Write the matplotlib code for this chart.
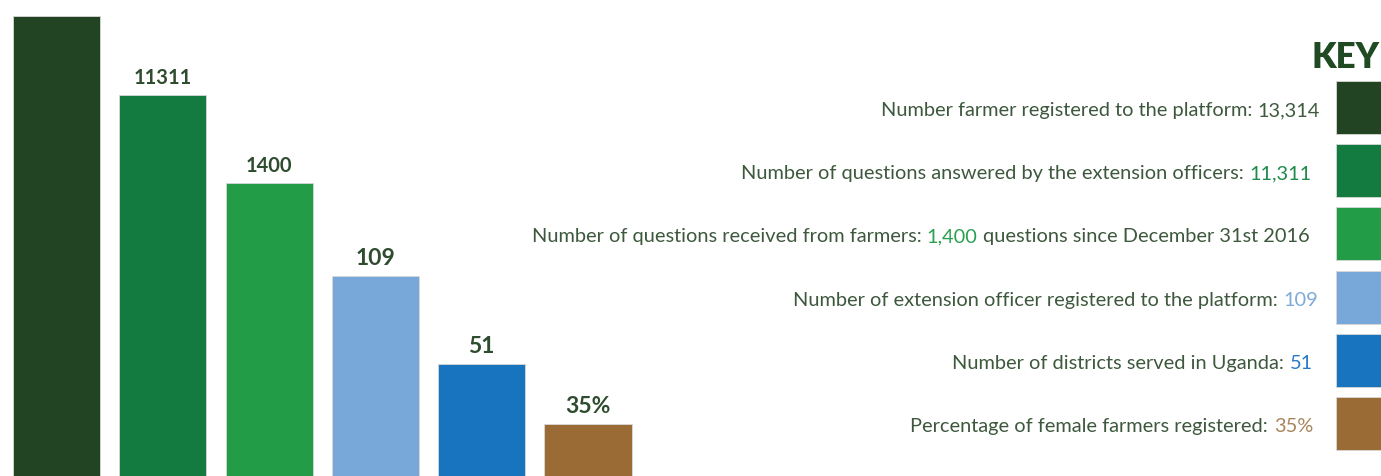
import numpy as np
import matplotlib
matplotlib.use("Agg")
import matplotlib.pyplot as plt
from matplotlib.offsetbox import TextArea, HPacker, AnnotationBbox

plt.rcParams["font.family"] = ["Lato", "DejaVu Sans"]

# figures shown on the bars and in the key
values = [13314, 11311, 1400, 109, 51, 35]
bar_labels = ["", "11311", "1400", "109", "51", "35%"]
colors = ["#234422", "#137a40", "#229c46", "#78a8da", "#1874be", "#9b6b35"]
value_colors = ["#3f5b3f", "#1f8a4c", "#2aa050", "#7eaad8", "#2a7cc4", "#a8855a"]
key_parts = [
    ["Number farmer registered to the platform:", "13,314", ""],
    ["Number of questions answered by the extension officers:", "11,311", ""],
    ["Number of questions received from farmers:", "1,400", "questions since December 31st 2016"],
    ["Number of extension officer registered to the platform:", "109", ""],
    ["Number of districts served in Uganda:", "51", ""],
    ["Percentage of female farmers registered:", "35%", ""],
]

text_col = "#3d583d"
W, H = 1381, 477
fig = plt.figure(figsize=(W / 100, H / 100), dpi=100)

# bars use a stepped (infographic) scale so the small figures stay visible
steps_v = [0, 35, 51, 109, 1400, 11311, 13314]
steps_y = [0, 52, 112, 200, 293, 381, 460]


def fwd(v):
    return np.interp(v, steps_v, steps_y)


def inv(y):
    return np.interp(y, steps_y, steps_v)


ax = fig.add_axes([0, 0, 690.5 / W, 460 / H])
ax.set_yscale("function", functions=(fwd, inv))
x = np.arange(len(values))
ax.bar(x, values, width=0.82, color=colors, edgecolor="#d8d8d8", linewidth=0.6)
ax.set_xlim(-0.5315, 5.964)
ax.set_ylim(0, 13314)
ax.axis("off")

for i, (v, lab) in enumerate(zip(values, bar_labels)):
    if not lab:
        continue
    size = 14.5 if i < 3 else 16.5
    ax.annotate(lab, (x[i], v), xytext=(0, 6), textcoords="offset points",
                ha="center", va="bottom", fontsize=size, fontweight="bold",
                color="#2f4c2f", annotation_clip=False)

# key
fig.text(1379 / W, 1 - 57 / H, "KEY", ha="right", va="center",
         fontsize=25, fontweight="heavy", color="#1f4a22")

sw_top = [82, 145, 208, 272, 335, 398]
sw_h = 53
text_right = [1320, 1311, 1310, 1318, 1313, 1313]
fs = 14.4
for i, parts in enumerate(key_parts):
    fig.patches.append(plt.Rectangle((1336 / W, 1 - (sw_top[i] + sw_h) / H),
                                     60 / W, sw_h / H, transform=fig.transFigure,
                                     facecolor=colors[i], edgecolor="#d8d8d8",
                                     linewidth=0.6))
    boxes = [TextArea(parts[0], textprops=dict(color=text_col, fontsize=fs)),
             TextArea(parts[1], textprops=dict(color=value_colors[i], fontsize=fs))]
    if parts[2]:
        boxes.append(TextArea(parts[2], textprops=dict(color=text_col, fontsize=fs)))
    row = HPacker(children=boxes, sep=4, pad=0, align="baseline")
    ab = AnnotationBbox(row, (text_right[i], H - (sw_top[i] + sw_h / 2) - 2),
                        xycoords="figure pixels", box_alignment=(1, 0.5),
                        frameon=False, pad=0)
    fig.add_artist(ab)

fig.savefig("out.png", dpi=100)
